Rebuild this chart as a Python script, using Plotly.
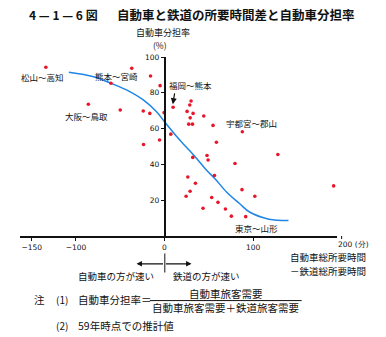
import plotly.graph_objects as go

# ---------------- data ----------------
time_diff = [-134, -60.5, -37, -15.8, -5, -86, -50, -24, -16.6, -0.5, 9.7, 30, 28.5, 25.5,
             32.3, 29, 27.4, 31.6, 44.3, 54.8, 7.1, -23.7, -5.6, 58.6, 31.9, 48, 49.2, 79.6,
             56.4, 26.3, 34.9, 28.9, 24.4, 53.3, 60.4, 43.5, 68.8, 75.5, 87.9, 128, 87.5,
             102, 91.7, 191]
car_share = [94.3, 85.3, 93.7, 89.4, 84, 73.6, 70.4, 69.8, 68.5, 68.9, 71.9, 75.4, 73.2, 69.6,
             68.5, 66, 62.5, 62.5, 67, 61.8, 56.9, 51.1, 53.6, 52.4, 43.9, 45, 42.5, 40.5,
             33.8, 33, 29.5, 25, 22.2, 21.5, 18.8, 15.5, 15.1, 11.1, 58.2, 45.5, 25.9,
             22.2, 10.8, 28]

curve_x = [-108, -80, -60.5, -43, -24, -9, 0, 13, 24, 36, 47, 57, 70, 85, 96, 118, 140]
curve_y = [91.5, 89, 85.3, 81.6, 76, 69.4, 63.8, 56, 50, 43.5, 37, 32, 24.6, 18, 13.4, 9.4, 8.6]

x_ticks = [-150, -100, 0, 100]
x_tick_labels = ["−150", "−100", "0", "100"]
x_last_tick = 200
x_last_label = "200 (分)"
y_ticks = [20, 40, 60, 80, 100]
y_tick_labels = ["20", "40", "60", "80", "100"]

route_labels = ["松山～高知", "熊本～宮崎", "大阪～鳥取", "福岡～熊本", "宇都宮～郡山", "札幌～釧路", "東京～山形"]

# ---------------- layout helpers ----------------
W, H = 386, 337
L, R, T, B = 20.0, 337.4, 57.1, 235.6
XMIN, XMAX = -163.2, 194.8
FONT = "Noto Sans CJK JP"


def pxx(px):
    return (px - L) / (R - L)


def pxy(py):
    return (B - py) / (B - T)


def data_x_to_paper(v):
    return (v - XMIN) / (XMAX - XMIN)


fig = go.Figure()

fig.add_trace(go.Scatter(x=curve_x, y=curve_y, mode="lines",
                         line=dict(color="#1f86e6", width=1.5, shape="spline", smoothing=1.0),
                         hoverinfo="skip", showlegend=False))
fig.add_trace(go.Scatter(x=time_diff, y=car_share, mode="markers",
                         marker=dict(color="#e8162a", size=3.6, symbol="circle"),
                         showlegend=False))

ann = []
label_pos = [(-137.3, 89.0), (-53.8, 89.4), (-87.6, 67.0), (29.7, 84.4),
             (98.5, 62.9), (195.5, 23.7), (104.0, 4.6)]
for txt, (lx, ly) in zip(route_labels, label_pos):
    ann.append(dict(x=lx, y=ly, xref="x", yref="y", text=txt, showarrow=False,
                    font=dict(family=FONT, size=8.5, color="#111"), xanchor="center", yanchor="middle"))
ann.append(dict(x=9.4, y=73.6, xref="x", yref="y", ax=11.7, ay=80.5, axref="x", ayref="y",
                text="", showarrow=True, arrowhead=2, arrowsize=1, arrowwidth=1.2, arrowcolor="#111"))

# last x tick label (beyond the drawn axis end), positioned from its data value
ann.append(dict(x=data_x_to_paper(x_last_tick), y=0, xref="paper", yref="paper", yshift=-8, xshift=-6,
                text=x_last_label, showarrow=False, xanchor="left", yanchor="middle",
                font=dict(family="DejaVu Sans", size=7.5, color="#111")))

# title
ann.append(dict(x=pxx(27), y=pxy(15), xref="paper", yref="paper", text="<b>4 — 1 — 6 図</b>",
                showarrow=False, xanchor="left", yanchor="middle",
                font=dict(family=FONT, size=12, color="#111")))
ann.append(dict(x=pxx(115), y=pxy(15), xref="paper", yref="paper",
                text="<b>自動車と鉄道の所要時間差と自動車分担率</b>",
                showarrow=False, xanchor="left", yanchor="middle",
                font=dict(family=FONT, size=12.5, color="#111")))
# y-axis title
ann.append(dict(x=pxx(163.5), y=pxy(33), xref="paper", yref="paper", text="自動車分担率",
                showarrow=False, xanchor="center", yanchor="middle",
                font=dict(family=FONT, size=9, color="#111")))
ann.append(dict(x=pxx(160), y=pxy(45), xref="paper", yref="paper", text="(%)",
                showarrow=False, xanchor="center", yanchor="middle",
                font=dict(family=FONT, size=8.5, color="#111")))
# x-axis title
ann.append(dict(x=pxx(368), y=pxy(257), xref="paper", yref="paper", text="自動車総所要時間",
                showarrow=False, xanchor="right", yanchor="middle",
                font=dict(family=FONT, size=9.5, color="#111")))
ann.append(dict(x=pxx(368), y=pxy(270.5), xref="paper", yref="paper", text="－鉄道総所要時間",
                showarrow=False, xanchor="right", yanchor="middle",
                font=dict(family=FONT, size=9.5, color="#111")))
# direction arrows
ann.append(dict(x=pxx(136.7), y=pxy(263.3), xref="paper", yref="paper", ax=28, ay=0,
                text="", showarrow=True, arrowhead=2, arrowsize=0.9, arrowwidth=1.2, arrowcolor="#111"))
ann.append(dict(x=pxx(191.7), y=pxy(263.3), xref="paper", yref="paper", ax=-27, ay=0,
                text="", showarrow=True, arrowhead=2, arrowsize=0.9, arrowwidth=1.2, arrowcolor="#111"))
ann.append(dict(x=pxx(116), y=pxy(275), xref="paper", yref="paper", text="自動車の方が速い",
                showarrow=False, xanchor="center", yanchor="middle",
                font=dict(family=FONT, size=9.5, color="#111")))
ann.append(dict(x=pxx(207), y=pxy(275), xref="paper", yref="paper", text="鉄道の方が速い",
                showarrow=False, xanchor="center", yanchor="middle",
                font=dict(family=FONT, size=9.5, color="#111")))
# notes
ann.append(dict(x=pxx(32), y=pxy(298.5), xref="paper", yref="paper", text="注",
                showarrow=False, xanchor="left", yanchor="middle",
                font=dict(family=FONT, size=10.5, color="#111")))
ann.append(dict(x=pxx(54), y=pxy(298.5), xref="paper", yref="paper", text="(1)",
                showarrow=False, xanchor="left", yanchor="middle",
                font=dict(family=FONT, size=10, color="#111")))
ann.append(dict(x=pxx(76), y=pxy(298.5), xref="paper", yref="paper", text="自動車分担率＝",
                showarrow=False, xanchor="left", yanchor="middle",
                font=dict(family=FONT, size=10.5, color="#111")))
ann.append(dict(x=pxx(226), y=pxy(292.5), xref="paper", yref="paper", text="自動車旅客需要",
                showarrow=False, xanchor="center", yanchor="middle",
                font=dict(family=FONT, size=10.5, color="#111")))
ann.append(dict(x=pxx(226), y=pxy(306.5), xref="paper", yref="paper", text="自動車旅客需要＋鉄道旅客需要",
                showarrow=False, xanchor="center", yanchor="middle",
                font=dict(family=FONT, size=10.5, color="#111")))
ann.append(dict(x=pxx(54), y=pxy(325), xref="paper", yref="paper", text="(2)",
                showarrow=False, xanchor="left", yanchor="middle",
                font=dict(family=FONT, size=10, color="#111")))
ann.append(dict(x=pxx(76), y=pxy(325), xref="paper", yref="paper", text="59年時点での推計値",
                showarrow=False, xanchor="left", yanchor="middle",
                font=dict(family=FONT, size=10.5, color="#111")))

shapes = [
    dict(type="line", xref="paper", yref="paper", x0=pxx(165), x1=pxx(165), y0=pxy(253), y1=pxy(272),
         line=dict(color="#111", width=1)),
    dict(type="line", xref="paper", yref="paper", x0=pxx(150), x1=pxx(302), y0=pxy(300), y1=pxy(300),
         line=dict(color="#111", width=1)),
    # tick mark for the last x tick
    dict(type="line", xref="paper", yref="paper", x0=data_x_to_paper(x_last_tick), x1=data_x_to_paper(x_last_tick),
         y0=0, y1=pxy(238.6), line=dict(color="#111", width=1)),
]

fig.update_layout(
    width=W, height=H,
    margin=dict(l=L, r=W - R, t=T, b=H - B, autoexpand=False),
    paper_bgcolor="white", plot_bgcolor="white",
    showlegend=False,
    annotations=ann, shapes=shapes,
    xaxis=dict(range=[XMIN, XMAX], showgrid=False, zeroline=False, showline=True,
               linecolor="#111", linewidth=1.5, ticks="outside", ticklen=3, tickcolor="#111",
               tickvals=x_ticks, ticktext=x_tick_labels,
               tickfont=dict(family="DejaVu Sans", size=7.5, color="#111"), automargin=False),
    yaxis=dict(range=[0, 100], showgrid=False, zeroline=False, showline=True,
               anchor="free", position=(0 - XMIN) / (XMAX - XMIN),
               linecolor="#111", linewidth=1.5, ticks="outside", ticklen=3, tickcolor="#111",
               tickvals=y_ticks, ticktext=y_tick_labels,
               tickfont=dict(family="DejaVu Sans", size=7.5, color="#111"), automargin=False),
)

fig.write_html("out.html")
